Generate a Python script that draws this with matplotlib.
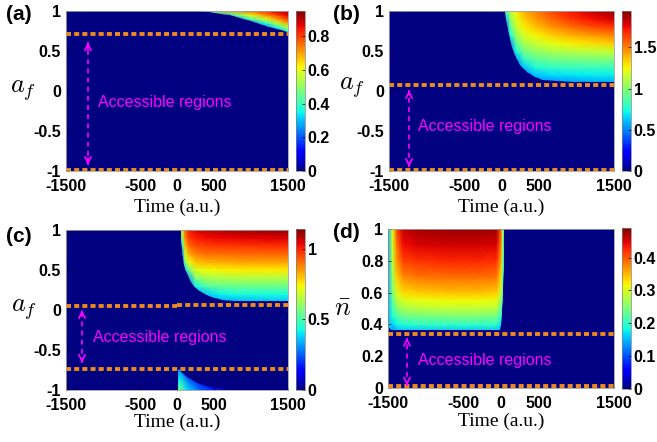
import numpy as np
import matplotlib
matplotlib.use('Agg')
import matplotlib.pyplot as plt
from matplotlib.patches import Polygon
from matplotlib.cm import ScalarMappable
from matplotlib.colors import Normalize

plt.rcParams['font.family'] = ['Liberation Sans', 'DejaVu Sans']
plt.rcParams['mathtext.fontset'] = 'cm'

# ---------------- data ----------------
time_ticks = [-1500, -500, 0, 500, 1500]
time_labels = ['-1500', '-500', '0', '500', '1500']
af_ticks = [-1, -0.5, 0, 0.5, 1]
af_labels = ['-1', '-0.5', '0', '0.5', '1']
n_ticks = [0, 0.2, 0.4, 0.6, 0.8, 1]
n_labels = ['0', '0.2', '0.4', '0.6', '0.8', '1']

# panel (a)
a_vmax = 0.95
a_cb_ticks = [0, 0.2, 0.4, 0.6, 0.8]
a_cb_labels = ['0', '0.2', '0.4', '0.6', '0.8']
a_grid_t = [250, 400, 600, 800, 1000, 1200, 1350, 1500]
a_grid_y = [0.70, 0.75, 0.80, 0.85, 0.90, 0.95, 1.00]
a_cols = [
    [0.25, 0.25, 0.25, 0.25, 0.25, 0.25, 0.25],
    [0.25, 0.25, 0.25, 0.25, 0.25, 0.25, 0.42],
    [0.25, 0.25, 0.25, 0.25, 0.25, 0.25, 0.60],
    [0.25, 0.25, 0.25, 0.25, 0.25, 0.45, 0.70],
    [0.25, 0.25, 0.25, 0.25, 0.42, 0.60, 0.77],
    [0.25, 0.25, 0.25, 0.38, 0.58, 0.72, 0.83],
    [0.25, 0.25, 0.38, 0.55, 0.70, 0.80, 0.88],
    [0.25, 0.40, 0.55, 0.70, 0.80, 0.87, 0.92],
]
a_edge_t = [311, 450, 600, 716, 850, 1000, 1081, 1200, 1300, 1400, 1500, 1500]
a_edge_y = [1.0, 0.985, 0.965, 0.945, 0.915, 0.875, 0.85, 0.815, 0.79, 0.76, 0.735, 1.0]
a_lines = [(-1500, 1500, 0.71), (-1500, 1500, -0.985)]
a_arrow = (-1203, 0.61, -0.925)
a_text = (-1068, -0.14)

# panel (b)
b_vmax = 1.94
b_cb_ticks = [0, 0.5, 1, 1.5]
b_cb_labels = ['0', '0.5', '1', '1.5']
b_grid_t = [0, 60, 120, 200, 300, 450, 650, 900, 1200, 1500]
b_grid_y = [0.0, 0.1, 0.2, 0.3, 0.4, 0.5, 0.6, 0.7, 0.8, 0.9, 1.0]
b_cols = [
    [0.5, 0.5, 0.5, 0.5, 0.5, 0.5, 0.5, 0.5, 0.5, 0.5, 0.5],
    [0.5, 0.5, 0.5, 0.5, 0.5, 0.5, 0.5, 0.5, 0.5, 0.6, 0.85],
    [0.5, 0.5, 0.5, 0.5, 0.5, 0.5, 0.55, 0.75, 0.9, 1.02, 1.12],
    [0.5, 0.5, 0.5, 0.5, 0.55, 0.75, 0.92, 1.05, 1.15, 1.22, 1.28],
    [0.5, 0.5, 0.5, 0.62, 0.8, 0.95, 1.08, 1.18, 1.27, 1.34, 1.4],
    [0.5, 0.5, 0.6, 0.76, 0.9, 1.03, 1.15, 1.26, 1.36, 1.44, 1.5],
    [0.5, 0.5, 0.66, 0.8, 0.94, 1.08, 1.22, 1.34, 1.45, 1.54, 1.62],
    [0.5, 0.52, 0.68, 0.82, 0.96, 1.11, 1.27, 1.4, 1.53, 1.64, 1.72],
    [0.5, 0.54, 0.69, 0.82, 0.97, 1.13, 1.31, 1.45, 1.6, 1.73, 1.83],
    [0.5, 0.55, 0.70, 0.83, 0.98, 1.15, 1.35, 1.5, 1.65, 1.8, 1.9],
]
b_edge_t = [47, 60, 85, 113, 145, 180, 250, 336, 450, 553, 750, 953, 1500, 1500]
b_edge_y = [1.0, 0.9, 0.78, 0.66, 0.55, 0.45, 0.33, 0.24, 0.175, 0.14, 0.12, 0.11, 0.11, 1.0]
b_lines = [(-1500, 1500, 0.08), (-1500, 1500, -0.985)]
b_arrow = (-1233, 0.01, -0.95)
b_text = (-1113, -0.44)

# panel (c)
c_vmax = 1.14
c_cb_ticks = [0, 0.5, 1]
c_cb_labels = ['0', '0.5', '1']
c_grid_t = [0, 40, 70, 110, 160, 250, 400, 600, 900, 1500]
c_grid_y = [0.0, 0.1, 0.2, 0.3, 0.4, 0.5, 0.6, 0.7, 0.8, 0.9, 1.0]
c_cols = [
    [0.3, 0.3, 0.3, 0.3, 0.3, 0.3, 0.3, 0.3, 0.3, 0.3, 0.3],
    [0.3, 0.3, 0.3, 0.3, 0.3, 0.3, 0.3, 0.3, 0.3, 0.3, 0.35],
    [0.3, 0.3, 0.3, 0.3, 0.3, 0.3, 0.3, 0.3, 0.45, 0.6, 0.72],
    [0.3, 0.3, 0.3, 0.3, 0.3, 0.38, 0.58, 0.7, 0.8, 0.87, 0.92],
    [0.3, 0.3, 0.3, 0.3, 0.33, 0.55, 0.72, 0.82, 0.9, 0.96, 1.0],
    [0.3, 0.3, 0.3, 0.42, 0.58, 0.7, 0.8, 0.88, 0.94, 1.0, 1.04],
    [0.3, 0.3, 0.37, 0.52, 0.63, 0.73, 0.82, 0.9, 0.96, 1.02, 1.07],
    [0.3, 0.32, 0.42, 0.54, 0.64, 0.74, 0.83, 0.9, 0.97, 1.03, 1.09],
    [0.3, 0.34, 0.44, 0.55, 0.65, 0.75, 0.84, 0.91, 0.97, 1.04, 1.1],
    [0.3, 0.36, 0.44, 0.55, 0.65, 0.75, 0.84, 0.91, 0.98, 1.05, 1.12],
]
c_edge_t = [50, 60, 70, 77, 95, 120, 149, 180, 216, 280, 351, 430, 514, 620, 757, 1000, 1500, 1500]
c_edge_y = [1.0, 0.9, 0.78, 0.65, 0.56, 0.49, 0.44, 0.37, 0.31, 0.25, 0.21, 0.18, 0.15, 0.13, 0.115, 0.11, 0.11, 1.0]
c_low_grid_t = [0, 40, 150, 300, 500, 700]
c_low_grid_y = [-1.0, -0.9, -0.8, -0.7]
c_low_cols = [
    [0.45, 0.38, 0.3, 0.25],
    [0.55, 0.46, 0.36, 0.28],
    [0.38, 0.3, 0.2, 0.12],
    [0.26, 0.18, 0.1, 0.04],
    [0.16, 0.09, 0.04, 0.0],
    [0.08, 0.04, 0.0, 0.0],
]
c_low_edge_t = [20, 27, 60, 135, 200, 270, 350, 446, 540, 622, 700, 20]
c_low_edge_y = [-0.76, -0.74, -0.78, -0.84, -0.88, -0.91, -0.935, -0.96, -0.98, -0.99, -1.0, -1.0]
c_lines = [(-1500, 0, 0.045), (0, 1500, 0.06), (-1500, 1500, -0.74)]
c_arrow = (-1284, 0.0, -0.66)
c_text = (-1135, -0.34)

# panel (d)
d_vmax = 0.49
d_cb_ticks = [0, 0.1, 0.2, 0.3, 0.4]
d_cb_labels = ['0', '0.1', '0.2', '0.3', '0.4']
d_grid_t = [-1500, -1490, -1440, -1380, -1300, -1100, -700, -300, -60, 0, 20, 40]
d_grid_y = [0.35, 0.4, 0.45, 0.5, 0.55, 0.6, 0.7, 0.8, 0.9, 1.0]
d_cols = [
    [0.16, 0.16, 0.16, 0.16, 0.16, 0.16, 0.16, 0.16, 0.16, 0.16],
    [0.16, 0.16, 0.16, 0.16, 0.16, 0.16, 0.16, 0.16, 0.16, 0.16],
    [0.13, 0.16, 0.19, 0.21, 0.23, 0.25, 0.27, 0.29, 0.30, 0.31],
    [0.14, 0.18, 0.22, 0.25, 0.28, 0.30, 0.34, 0.37, 0.39, 0.41],
    [0.15, 0.19, 0.235, 0.27, 0.30, 0.33, 0.375, 0.41, 0.44, 0.46],
    [0.15, 0.20, 0.24, 0.28, 0.31, 0.34, 0.385, 0.42, 0.45, 0.475],
    [0.15, 0.20, 0.245, 0.285, 0.315, 0.345, 0.39, 0.425, 0.455, 0.48],
    [0.15, 0.20, 0.245, 0.285, 0.315, 0.345, 0.39, 0.425, 0.455, 0.48],
    [0.15, 0.20, 0.24, 0.28, 0.31, 0.34, 0.385, 0.42, 0.45, 0.475],
    [0.14, 0.17, 0.20, 0.23, 0.26, 0.29, 0.33, 0.36, 0.38, 0.40],
    [0.13, 0.15, 0.17, 0.19, 0.21, 0.23, 0.25, 0.27, 0.29, 0.30],
    [0.17, 0.17, 0.17, 0.17, 0.17, 0.17, 0.17, 0.17, 0.17, 0.17],
]
d_edge_t = [-1490, -1490, -1485, -1470, -1450, -10, 0, 15, 28, 36, 40]
d_edge_y = [1.0, 0.40, 0.385, 0.372, 0.367, 0.367, 0.4, 0.5, 0.65, 0.8, 1.0]
d_lines = [(-1500, 1500, 0.34), (-1500, 1500, 0.012)]
d_arrow = (-1248, 0.316, 0.015)
d_text = (-1102, 0.171)

# ---------------- figure ----------------
W, H = 657, 442
fig = plt.figure(figsize=(W / 100, H / 100), dpi=100)
ORANGE = '#EC8A1E'
MAG = '#FF00FF'
BLUE = plt.cm.jet(0)


def box(l, t, r, b):
    return [l / W, 1 - b / H, (r - l) / W, (b - t) / H]


def panel(rect, crect, ylim, yticks, ylabels, ylab, ylab_xy, xlab_y, vmax,
          cb_ticks, cb_labels, fields, lines, arrow, text_xy, tag, tag_xy):
    ax = fig.add_axes(box(*rect))
    ax.set_facecolor(BLUE)
    for gt, gy, cols, et, ey in fields:
        Z = np.array(cols).T
        m = ax.pcolormesh(gt, gy, Z, shading='gouraud', cmap='jet',
                          vmin=0, vmax=vmax)
        poly = Polygon(np.column_stack([et, ey]), closed=True,
                       transform=ax.transData)
        m.set_clip_path(poly)
    ax.set_xlim(-1500, 1500)
    ax.set_ylim(*ylim)
    for t0, t1, y in lines:
        ax.plot([t0, t1], [y, y], color=ORANGE, lw=2.8,
                ls=(0, (1.3, 0.8)), dash_capstyle='butt')
    t, y1, y0 = arrow
    ax.plot([t, t], [y0, y1], color=MAG, lw=1.2, ls=(0, (3, 2.5)))
    span = abs(y1 - y0) * 0.06
    ax.annotate('', xy=(t, y1), xytext=(t, y1 - span),
                arrowprops=dict(arrowstyle='->,head_length=0.45,head_width=0.22',
                                color=MAG, lw=1.2, shrinkA=0, shrinkB=0))
    ax.annotate('', xy=(t, y0), xytext=(t, y0 + span),
                arrowprops=dict(arrowstyle='->,head_length=0.45,head_width=0.22',
                                color=MAG, lw=1.2, shrinkA=0, shrinkB=0))
    ax.text(text_xy[0], text_xy[1], 'Accessible regions', color=MAG,
            fontsize=11.5, ha='left', va='center')
    ax.set_xticks(time_ticks)
    ax.set_xticklabels(time_labels, fontsize=11.5, fontweight='bold')
    ax.set_yticks(yticks)
    ax.set_yticklabels(ylabels, fontsize=11.5, fontweight='bold')
    ax.tick_params(axis='x', direction='in', length=2.5, width=0.5, pad=6)
    ax.tick_params(axis='y', direction='in', length=2.5, width=0.5, pad=3.5)
    for s in ax.spines.values():
        s.set_linewidth(0.6)
        s.set_color('#a0a0a0')
    ax.set_ylabel(ylab, rotation=0, fontsize=19, ha='center', va='center')
    ax.yaxis.set_label_coords(*ylab_xy)
    ax.set_xlabel('Time (a.u.)', fontfamily='Liberation Serif', fontsize=14,
                  va='center')
    ax.xaxis.set_label_coords(0.5, xlab_y)

    cax = fig.add_axes(box(*crect))
    cb = fig.colorbar(ScalarMappable(Normalize(0, vmax), 'jet'), cax=cax,
                      ticks=cb_ticks)
    cb.ax.set_yticklabels(cb_labels, fontsize=11.5, fontweight='bold')
    cb.outline.set_linewidth(0.5)
    cb.outline.set_edgecolor('#808080')
    cax.tick_params(direction='in', length=2, width=0.5, pad=2)
    fig.text(tag_xy[0] / W, 1 - tag_xy[1] / H, tag, fontsize=15,
             fontweight='bold', ha='left', va='center')
    return ax


panel((66, 11, 288, 171), (296, 11, 305, 171), (-1, 1), af_ticks, af_labels,
      r'$a_f$', (-0.194, 0.5), -0.225, a_vmax, a_cb_ticks, a_cb_labels,
      [(a_grid_t, a_grid_y, a_cols, a_edge_t, a_edge_y)],
      a_lines, a_arrow, a_text, '(a)', (6, 15))

panel((389, 11, 614, 171), (622, 11, 631, 171), (-1, 1), af_ticks, af_labels,
      r'$a_f$', (-0.164, 0.52), -0.225, b_vmax, b_cb_ticks, b_cb_labels,
      [(b_grid_t, b_grid_y, b_cols, b_edge_t, b_edge_y)],
      b_lines, b_arrow, b_text, '(b)', (333, 14))

panel((66, 230, 288, 390), (296, 229, 305, 390), (-1, 1), af_ticks, af_labels,
      r'$a_f$', (-0.19, 0.5), -0.2, c_vmax, c_cb_ticks, c_cb_labels,
      [(c_grid_t, c_grid_y, c_cols, c_edge_t, c_edge_y),
       (c_low_grid_t, c_low_grid_y, c_low_cols, c_low_edge_t, c_low_edge_y)],
      c_lines, c_arrow, c_text, '(c)', (6, 236))

panel((388, 229, 614, 388), (622, 228, 631, 389), (0, 1), n_ticks, n_labels,
      r'$\bar{n}$', (-0.2, 0.5), -0.21, d_vmax, d_cb_ticks, d_cb_labels,
      [(d_grid_t, d_grid_y, d_cols, d_edge_t, d_edge_y)],
      d_lines, d_arrow, d_text, '(d)', (333, 233))

fig.savefig('out.png', dpi=100)
